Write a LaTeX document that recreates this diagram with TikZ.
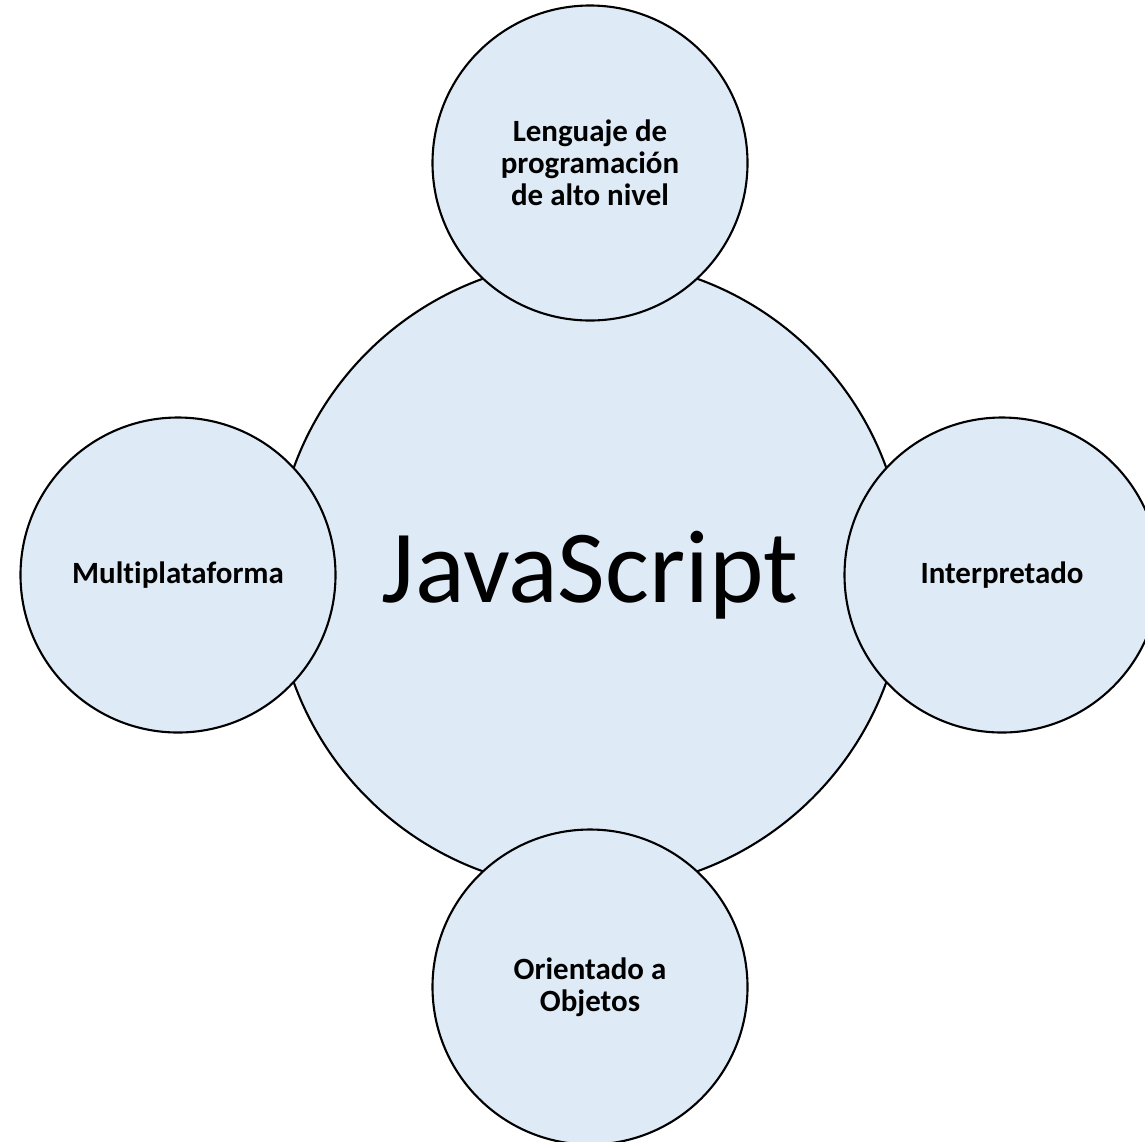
\documentclass[tikz,border=0pt]{standalone}
\usepackage{fontspec}
\setmainfont{Carlito}[Ligatures={NoCommon}]
\usetikzlibrary{positioning}
\definecolor{bubblefill}{RGB}{222,235,247}
\tikzset{
  mainbubble/.style={circle,draw=black,line width=1.2pt,fill=bubblefill,minimum size=12.6cm,inner sep=0pt,
    font=\fontsize{59}{64}\selectfont},
  bubble/.style={circle,draw=black,line width=1.2pt,fill=bubblefill,minimum size=6.3cm,inner sep=0pt,
    align=center,font=\bfseries\fontsize{17.6}{18.2}\selectfont}
}

\begin{document}
\begin{tikzpicture}[on grid,node distance=8.24cm]
            \useasboundingbox (0,0) rectangle (22.9,-22.82);
            \node[mainbubble] (js) at (11.8,-11.5) {JavaScript};
            \node[bubble,above=of js] (nivel) {Lenguaje de\\programación\\de alto nivel};
            \node[bubble,right=of js] (interp) {Interpretado};
            \node[bubble,below=of js] (objetos) {Orientado a\\Objetos};
            \node[bubble,left=of js] (multi) {Multiplataforma};
        \end{tikzpicture}
\end{document}
